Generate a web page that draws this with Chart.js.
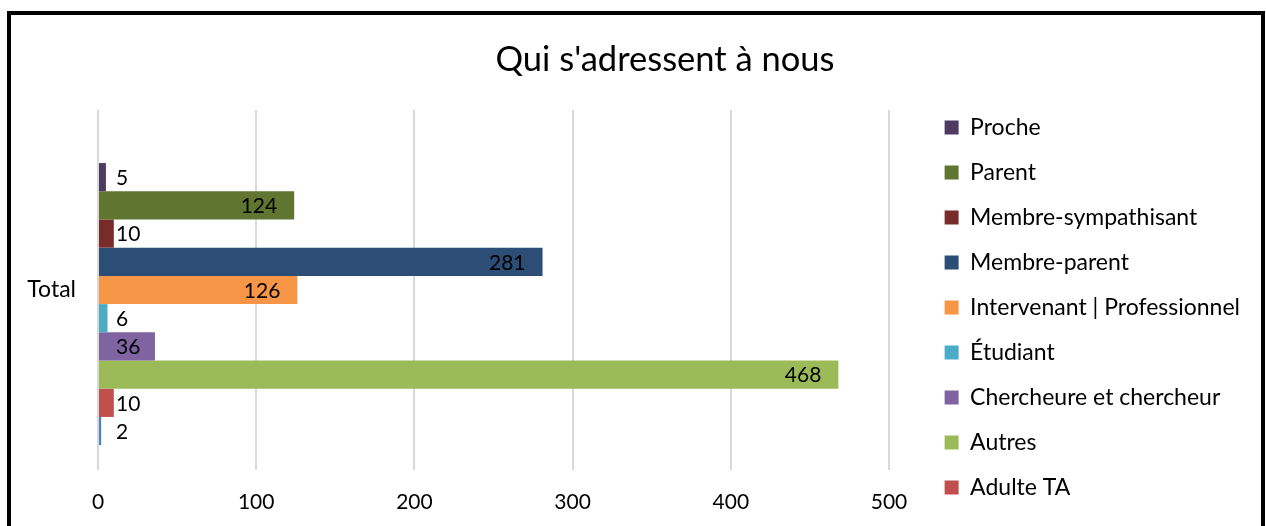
<!DOCTYPE html>
<html>
<head>
<meta charset="utf-8">
<script src="https://cdn.jsdelivr.net/npm/chart.js@4/dist/chart.umd.min.js"></script>
<style>
  html, body { margin: 0; padding: 0; background: #fff; }
  body { width: 1266px; height: 526px; overflow: hidden; position: relative; }
  #wrap { position: absolute; left: 0; top: 0; width: 1266px; height: 580px; }
  #frame {
    position: absolute; left: 7px; top: 11px; width: 1250px; height: 600px;
    border: 4px solid #000; pointer-events: none;
  }
  #title {
    position: absolute; left: 665px; top: 37px; transform: translateX(-50%);
    font-family: Lato, sans-serif; font-size: 34.5px; color: #000; white-space: nowrap;
  }
</style>
</head>
<body>
<div id="wrap"><canvas id="chart" width="1266" height="580"></canvas></div>
<div id="frame"></div>
<div id="title">Qui s'adressent à nous</div>
<script>
// Categories and series
let categories = ['Total']
let seriesNames = [
  'Proche',
  'Parent',
  'Membre-sympathisant',
  'Membre-parent',
  'Intervenant | Professionnel',
  'Étudiant',
  'Chercheure et chercheur',
  'Autres',
  'Adulte TA',
  'Adolescent', // its legend entry did not fit in the original
]
let seriesValues = [5, 124, 10, 281, 126, 6, 36, 468, 10, 2]
let palette = [
  '#4d3b62',
  '#5f7530',
  '#772c2a',
  '#2c4d75',
  '#f79646',
  '#4bacc6',
  '#8064a2',
  '#9bbb59',
  '#c0504d',
  '#4f81bd',
]
let xMax = 500
let xStep = 100
let legendShown = 9

let font = 'Lato, sans-serif'
let plotRight = 889
let padRight = 16

// One empty slot at the top like the source workbook
let datasets = [{ label: '', data: [null], backgroundColor: 'transparent' }]
seriesNames.forEach((name, i) => {
  datasets.push({
    label: name,
    data: [seriesValues[i]],
    backgroundColor: palette[i],
  })
})

// Value labels, inside end but kept clear of the axis
let valueLabels = {
  id: 'valueLabels',
  afterDatasetsDraw(chart) {
    let ctx = chart.ctx
    ctx.save()
    ctx.font = '21px ' + font
    ctx.fillStyle = '#000'
    ctx.textAlign = 'right'
    ctx.textBaseline = 'middle'
    chart.data.datasets.forEach((ds, di) => {
      chart.getDatasetMeta(di).data.forEach((bar, i) => {
        let v = ds.data[i]
        if (v == null) return
        let text = String(v)
        let w = ctx.measureText(text).width
        let x = Math.max(bar.x - 17, bar.base + 17 + w)
        ctx.fillText(text, x, bar.y + 1)
      })
    })
    ctx.restore()
  }
}

new Chart(document.getElementById('chart'), {
  type: 'bar',
  data: { labels: categories, datasets: datasets },
  options: {
    indexAxis: 'y',
    responsive: false,
    animation: false,
    events: [],
    layout: { padding: { top: 94, right: padRight, bottom: 0, left: 0 } },
    datasets: { bar: { categoryPercentage: 0.862, barPercentage: 1 } },
    scales: {
      x: {
        min: 0,
        max: xMax,
        ticks: { stepSize: xStep, padding: 20, color: '#000', font: { family: font, size: 21 } },
        grid: { color: '#d9d9d9', lineWidth: 2, drawTicks: false },
        border: { display: false },
        afterFit(s) { s.height = 110 },
      },
      // spacer above the plot
      top: {
        axis: 'x',
        type: 'linear',
        position: 'top',
        ticks: { display: false },
        grid: { display: false, drawTicks: false },
        border: { display: false },
        afterFit(s) { s.height = 16 },
      },
      y: {
        ticks: { padding: 22, color: '#000', font: { family: font, size: 23 } },
        grid: { display: false, drawTicks: false },
        border: { display: false },
        afterFit(s) { s.width = 98 },
      },
      // spacer between plot and legend
      gap: {
        axis: 'y',
        type: 'linear',
        position: 'right',
        ticks: { display: false },
        grid: { display: false, drawTicks: false },
        border: { display: false },
        afterFit(s) { s.width = s.chart.width - padRight - plotRight - s.chart.legend.width },
      },
    },
    plugins: {
      title: { display: false },
      tooltip: { enabled: false },
      legend: {
        position: 'right',
        align: 'start',
        maxWidth: 400,
        labels: {
          boxWidth: 14,
          boxHeight: 14,
          padding: 22,
          color: '#000',
          font: { family: font, size: 23 },
          filter: (item) => item.text !== '' && item.datasetIndex <= legendShown,
        },
      },
    },
  },
  plugins: [valueLabels],
})
</script>
</body>
</html>
